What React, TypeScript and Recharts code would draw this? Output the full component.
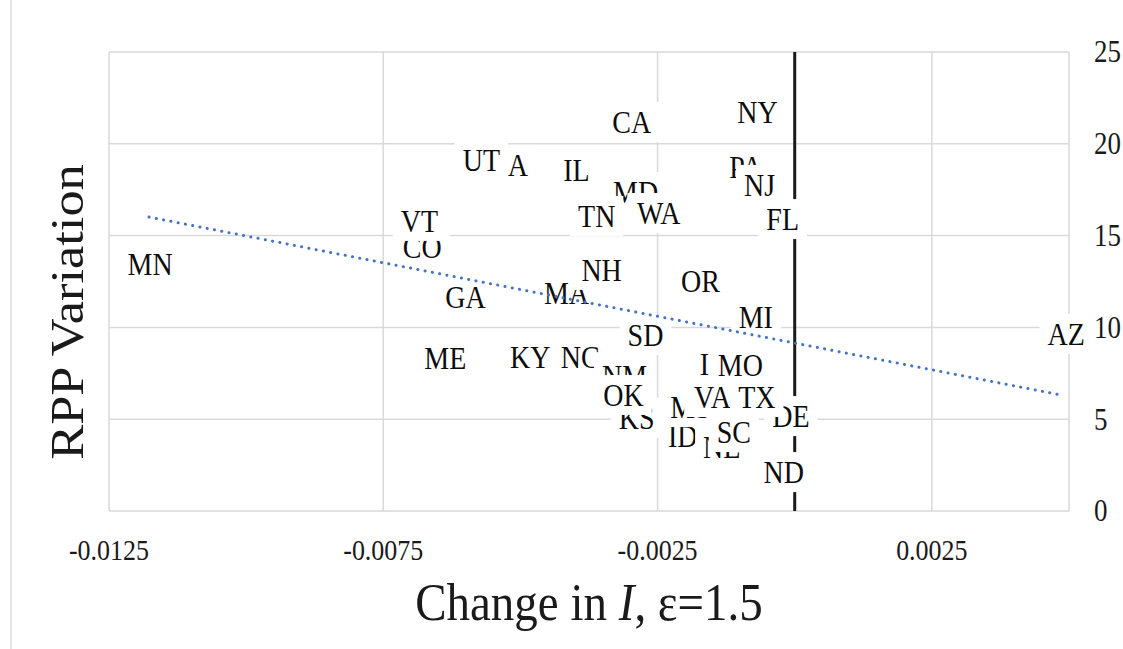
import React from 'react'
import { ScatterChart, Scatter, XAxis, YAxis, CartesianGrid, Label } from 'recharts'

const SERIF = '"Liberation Serif", "Times New Roman", serif'
// the reference text looks a little stretched vertically
const SY = 1.14

// drawing order matters: later labels cover earlier ones
const states = [
  'MN', 'CO', 'VT', 'IA', 'UT', 'IL', 'CA', 'NY', 'MD', 'TN', 'WA', 'PA', 'NJ', 'FL',
  'MA', 'NH', 'GA', 'OR', 'MI', 'SD', 'AZ', 'ME', 'KY', 'NC', 'NM', 'KS', 'OK',
  'IN', 'MO', 'ID', 'MS', 'VA', 'NE', 'SC', 'DE', 'TX', 'ND',
]
const changeI = [
  -0.01175, -0.00679, -0.00684, -0.00513, -0.00571, -0.00398, -0.00297, -0.00068, -0.0029, -0.00361, -0.00248, -0.00089, -0.00064, -0.00022,
  -0.00416, -0.00352, -0.006, -0.00172, -0.00071, -0.00272, 0.00495, -0.00637, -0.00482, -0.00391, -0.0031, -0.00288, -0.00312,
  -0.00146, -0.00099, -0.00204, -0.0019, -0.0015, -0.00133, -0.00111, -0.00007, -0.00069, -0.0002,
]
const rppVariation = [
  13.45, 14.38, 15.8, 18.85, 19.12, 18.57, 21.19, 21.73, 17.37, 16.07, 16.23, 18.74, 17.76, 15.9,
  11.87, 13.13, 11.66, 12.53, 10.57, 9.59, 9.64, 8.33, 8.39, 8.39, 7.35, 5.07, 6.32,
  8.01, 7.95, 4.08, 5.66, 6.21, 3.49, 4.3, 5.17, 6.21, 2.12,
]

const trendX = [-0.01177, 0.00485]
const trendY = [16.01, 6.32]

const zeroX = [0, 0]
const zeroY = [0, 25]

const xTicks = [-0.0125, -0.0075, -0.0025, 0.0025]
const xTickLabels = ['-0.0125', '-0.0075', '-0.0025', '0.0025']
const yTicks = [0, 5, 10, 15, 20, 25]

const labelData = states.map((name, i) => ({ name, x: changeI[i], y: rppVariation[i] }))
const trendData = trendX.map((x, i) => ({ x, y: trendY[i] }))
const zeroData = zeroX.map((x, i) => ({ x, y: zeroY[i] }))

// Times-style advance widths (em) for sizing the white label boxes
const glyphW: Record<string, number> = {
  A: 0.722, B: 0.667, C: 0.667, D: 0.722, E: 0.611, F: 0.556, G: 0.722, H: 0.722, I: 0.333,
  J: 0.389, K: 0.722, L: 0.611, M: 0.889, N: 0.722, O: 0.722, P: 0.556, R: 0.667, S: 0.556,
  T: 0.611, U: 0.722, V: 0.722, W: 0.944, X: 0.722, Y: 0.722, Z: 0.611,
}

const LABEL_SIZE = 28

function StateLabel(props: any) {
  const { cx, cy, payload } = props
  if (cx == null || cy == null) return <g />
  const name: string = payload.name
  const w = name.split('').reduce((s, c) => s + (glyphW[c] ?? 0.7), 0) * LABEL_SIZE + 16
  const h = 40
  return (
    <g>
      <rect x={cx - w / 2} y={cy - h / 2} width={w} height={h} fill="#ffffff" />
      <text
        transform={`translate(${cx},${cy}) scale(1,${SY})`}
        textAnchor="middle"
        dy="0.34em"
        fontFamily={SERIF}
        fontSize={LABEL_SIZE}
        fill="#0d0d0d"
      >
        {name}
      </text>
    </g>
  )
}

function XTick(props: any) {
  const { x, y, payload } = props
  const i = xTicks.findIndex((t) => Math.abs(t - payload.value) < 1e-9)
  return (
    <text
      transform={`translate(${x},${y}) scale(1,${SY})`}
      textAnchor="middle"
      dy="0.71em"
      fontFamily={SERIF}
      fontSize={26}
      fill="#1a1a1a"
    >
      {i >= 0 ? xTickLabels[i] : payload.value}
    </text>
  )
}

function YTick(props: any) {
  const { x, y, payload } = props
  return (
    <text
      transform={`translate(${x},${y}) scale(1,${SY})`}
      textAnchor="start"
      dy="0.34em"
      fontFamily={SERIF}
      fontSize={27}
      fill="#1a1a1a"
    >
      {payload.value}
    </text>
  )
}

const XTitle = () => (
  <text
    transform={`translate(589,620) scale(1,${SY})`}
    textAnchor="middle"
    fontFamily={SERIF}
    fontSize={47}
    fill="#1a1a1a"
  >
    Change in <tspan fontStyle="italic">I</tspan>, ε=1.5
  </text>
)

const YTitle = () => (
  <text
    transform={`translate(83,312) scale(1,${SY}) rotate(-90)`}
    textAnchor="middle"
    fontFamily={SERIF}
    fontSize={46}
    fill="#1a1a1a"
  >
    RPP Variation
  </text>
)

const noDot = () => <g />

export default function App() {
  return (
    <div style={{ position: 'fixed', left: 0, top: 0, width: 1123, height: 649, background: '#fff' }}>
      <div style={{ position: 'absolute', left: 10, top: 0, width: 2, height: 649, background: '#e3e3e3' }} />
      <ScatterChart width={1123} height={649} margin={{ top: 52, right: 0, bottom: 0, left: 109 }}>
        <CartesianGrid stroke="#d9d9d9" strokeWidth={1.5} />
        <XAxis
          type="number"
          dataKey="x"
          domain={[-0.0125, 0.005]}
          ticks={xTicks}
          interval={0}
          height={138}
          axisLine={false}
          tickLine={false}
          tickSize={0}
          tickMargin={28}
          tick={<XTick />}
        >
          <Label content={<XTitle />} />
        </XAxis>
        <YAxis
          type="number"
          dataKey="y"
          orientation="right"
          domain={[0, 25]}
          ticks={yTicks}
          interval={0}
          width={54}
          axisLine={false}
          tickLine={false}
          tickSize={0}
          tickMargin={25}
          tick={<YTick />}
        >
          <Label content={<YTitle />} />
        </YAxis>
        <Scatter
          data={zeroData}
          line={{ stroke: '#1a1a1a', strokeWidth: 3 }}
          shape={noDot}
          isAnimationActive={false}
        />
        <Scatter data={labelData} shape={<StateLabel />} isAnimationActive={false} />
        <Scatter
          data={trendData}
          line={{ stroke: '#4472c4', strokeWidth: 3, strokeDasharray: '0.1 7.3', strokeLinecap: 'round' }}
          shape={noDot}
          isAnimationActive={false}
        />
      </ScatterChart>
    </div>
  )
}
